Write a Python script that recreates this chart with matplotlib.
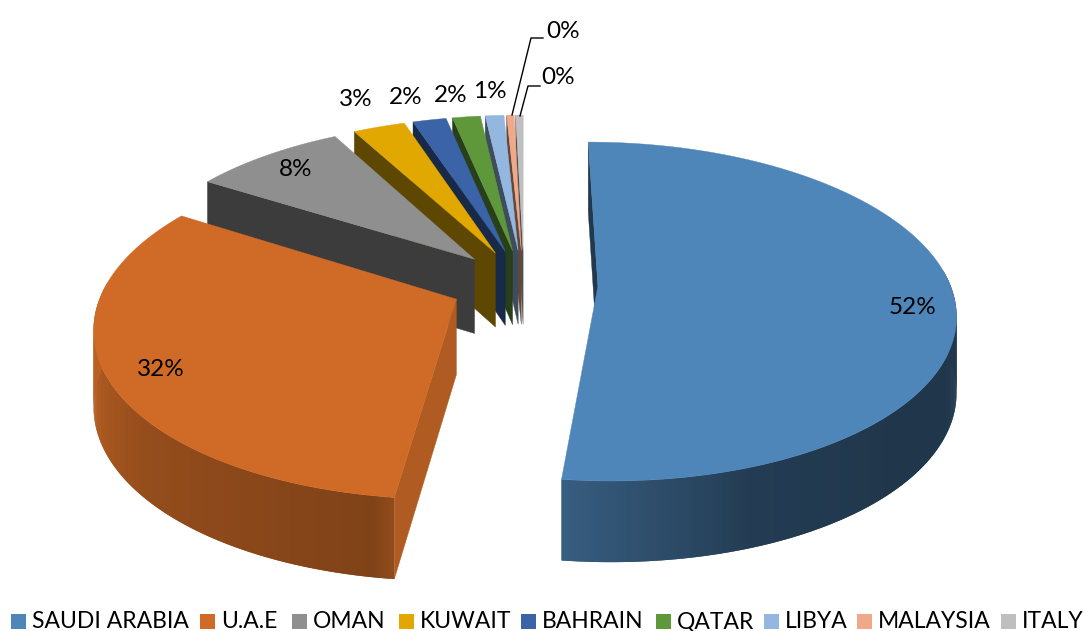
import numpy as np
import matplotlib
matplotlib.use("Agg")
import matplotlib.pyplot as plt
from matplotlib.patches import Polygon, Rectangle

plt.rcParams['font.family'] = ['Lato', 'DejaVu Sans']

# Data
countries = ["SAUDI ARABIA", "U.A.E", "OMAN", "KUWAIT", "BAHRAIN", "QATAR", "LIBYA", "MALAYSIA", "ITALY"]
shares = [51.9, 32.0, 8.2, 2.8, 1.8, 1.5, 1.0, 0.4, 0.4]
colors = ["#4F86B9", "#CF6B27", "#8F8F8F", "#E0A800", "#3A63A8", "#5F973B", "#94B7E0", "#F0A88B", "#BFBFBF"]

# Where the labels sit, in pixels
label_xy = [(913, 307), (161, 370), (296, 169), (356, 100), (406, 98), (451, 96), (490, 91), (563, 31), (558, 78)]
legend_x = [11, 200, 292, 399, 521, 656, 764, 857, 1001]

# Pie shape, in pixels
cx, cy = 524, 284
R, K = 352, 165
persp = 0.15
depth = 75
explode = 0.21
start = 0.0


def project(x, y):
    w = 1 + persp * y
    return cx + R * x / w, cy - K * y / w


def drop(y):
    return depth / (1 + 0.5 * persp * y)


# Shade of the outer wall, by angle
shade_angle = [90, 130, 160, 187, 190, 230, 260, 300]
shade_value = [0.42, 0.40, 0.45, 0.70, 0.62, 0.72, 0.90, 0.95]


def darker(color, f):
    return tuple(c * f for c in matplotlib.colors.to_rgb(color))


fig = plt.figure(figsize=(10.84, 6.31), dpi=100)
ax = fig.add_axes([0, 0, 1, 1])
ax.set_xlim(0, 1084)
ax.set_ylim(631, 0)
ax.axis("off")

# Angles of each slice
edges = start + np.concatenate([[0], np.cumsum(shares)]) / sum(shares) * 360

# Back slices first, so the big front ones go on top
for i in range(len(shares) - 1, -1, -1):
    a0, a1 = edges[i], edges[i + 1]
    mid = np.radians((a0 + a1) / 2)
    ox, oy = explode * np.sin(mid), explode * np.cos(mid)

    ang = np.radians(np.linspace(a0, a1, max(int(a1 - a0) * 2, 2) + 1))
    xs = ox + np.sin(ang)
    ys = oy + np.cos(ang)
    px, py = project(xs, ys)
    ax0, ay0 = project(ox, oy)

    # outer wall, only the part facing the viewer; each strip overlaps the next so no seams show
    for j in range(len(ang) - 1):
        am = np.degrees((ang[j] + ang[j + 1]) / 2)
        if np.cos(np.radians(am)) > 0.1:
            continue
        k = min(j + 2, len(ang) - 1)
        col = darker(colors[i], np.interp(am, shade_angle, shade_value))
        quad = [(px[j], py[j]), (px[k], py[k]), (px[k], py[k] + drop(ys[k])), (px[j], py[j] + drop(ys[j]))]
        ax.add_patch(Polygon(quad, facecolor=col, edgecolor="none", zorder=i * -3))

    # wall along the first cut edge
    wall_f = 0.85 if i == 1 else 0.42
    wall_col = darker(colors[i], wall_f)
    wall = [(ax0, ay0), (px[0], py[0]), (px[0], py[0] + drop(ys[0])), (ax0, ay0 + drop(oy))]
    ax.add_patch(Polygon(wall, facecolor=wall_col, edgecolor=wall_col, lw=0.3, zorder=i * -3 + 1))

    # top face
    top = [(ax0, ay0)] + list(zip(px, py))
    ax.add_patch(Polygon(top, facecolor=colors[i], edgecolor=colors[i], lw=0.3, zorder=i * -3 + 2))

# Labels
for v, (lx, ly) in zip(shares, label_xy):
    ax.text(lx, ly, f"{round(v)}%", fontsize=17.5, color="black", ha="center", va="center", zorder=10)

# Leader lines for the two small slices
ax.plot([512, 531, 543], [115, 38, 38], color="black", lw=1, zorder=9)
ax.plot([520, 528, 540], [116, 86, 86], color="black", lw=1, zorder=9)

# Legend, one square and one name per country
for name, c, lx in zip(countries, colors, legend_x):
    ax.add_patch(Rectangle((lx, 614), 15, 15, facecolor=c, edgecolor="none"))
    ax.text(lx + 21, 628, name, fontsize=16.5, color="black", ha="left", va="baseline")

fig.savefig("out.png", dpi=100)
